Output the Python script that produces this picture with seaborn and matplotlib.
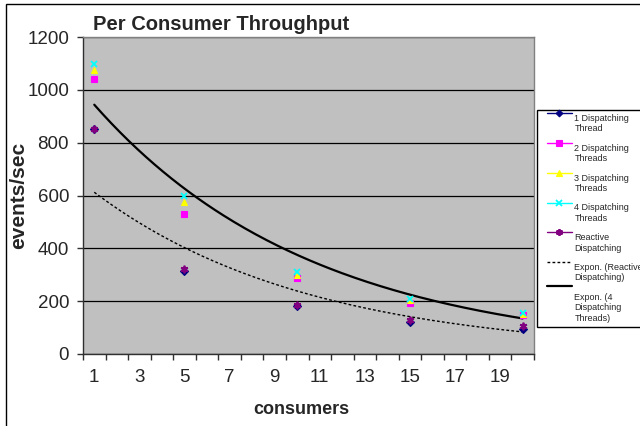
import numpy as np
import pandas as pd
import matplotlib
matplotlib.use("Agg")
import matplotlib.pyplot as plt
import seaborn as sns
from matplotlib.lines import Line2D
from matplotlib.legend_handler import HandlerLine2D
from matplotlib.patches import Rectangle

# ---- data ----
consumers = [1, 5, 10, 15, 20]
one_thread = [850, 315, 183, 123, 95]
two_threads = [1042, 530, 289, 194, 148]
three_threads = [1075, 574, 299, 203, 152]
four_threads = [1098, 599, 311, 210, 156]
reactive = [853, 322, 185, 130, 105]

series_names = ["1 Dispatching\nThread", "2 Dispatching\nThreads", "3 Dispatching\nThreads",
                "4 Dispatching\nThreads", "Reactive\nDispatching"]
trend_names = ["Expon. (Reactive\nDispatching)", "Expon. (4\nDispatching\nThreads)"]
x_tick_labels = ["1", "3", "5", "7", "9", "11", "13", "15", "17", "19"]
y_ticks = [0, 200, 400, 600, 800, 1000, 1200]

# ---- style ----
sns.set_style("white")
plt.rcParams["font.family"] = ["Liberation Sans", "DejaVu Sans"]

W, H = 640, 426
fig = plt.figure(figsize=(6.4, 4.26), dpi=100)
ax = fig.add_axes([83 / W, 1 - 354 / H, (534 - 83) / W, (354 - 37) / H])
ax.set_facecolor("#C0C0C0")

styles = [
    dict(color="#000080", marker="D", ms=3.8, mec="#000080"),
    dict(color="#FF00FF", marker="s", ms=4.5, mec="#FF00FF"),
    dict(color="#FFFF00", marker="^", ms=5.0, mec="#FFFF00"),
    dict(color="#00FFFF", marker="x", ms=5.0, mew=1.3, mec="#00FFFF"),
    dict(color="#800080", marker=(6, 2, 0), ms=5.5, mew=1.3, mec="#800080"),
]
values = [one_thread, two_threads, three_threads, four_threads, reactive]

for name, vals, st in zip(series_names, values, styles):
    df = pd.DataFrame({"consumers": consumers, "value": vals})
    sns.lineplot(data=df, x="consumers", y="value", ax=ax, linestyle="", errorbar=None,
                 marker=st["marker"], ms=st["ms"], mew=st.get("mew", 0.8),
                 mec=st["mec"], mfc=st["color"], color=st["color"], zorder=4)

# exponential trendlines (least squares on log values, as the spreadsheet does)
xs = np.linspace(1, 20, 200)
b_r, a_r = np.polyfit(consumers, np.log(reactive), 1)
b_4, a_4 = np.polyfit(consumers, np.log(four_threads), 1)
sns.lineplot(x=xs, y=np.exp(a_r + b_r * xs), ax=ax, color="black", lw=1.0,
             linestyle=(0, (2.0, 1.6)), errorbar=None, zorder=3)
sns.lineplot(x=xs, y=np.exp(a_4 + b_4 * xs), ax=ax, color="black", lw=1.6,
             errorbar=None, zorder=3)

# ---- axes ----
ax.set_xlim(0.5, 20.5)
ax.set_ylim(0, 1200)
ax.set_yticks(y_ticks)
ax.set_yticklabels([str(v) for v in y_ticks])
ax.set_xticks(np.arange(0.5, 21, 1.0))
ax.set_xticklabels([])
ax.set_xticks(np.arange(1, 20, 2), minor=True)
ax.set_xticklabels(x_tick_labels, minor=True)
ax.tick_params(axis="x", which="major", direction="out", length=4.5, width=1, color="#303030",
               bottom=True)
ax.tick_params(axis="x", which="minor", length=0, pad=11, labelsize=13.5, bottom=True)
ax.tick_params(axis="y", direction="out", length=4.5, width=1, color="#303030", pad=5.5,
               labelsize=13.5, left=True)
ax.yaxis.grid(True, color="black", lw=0.9)
ax.set_axisbelow(True)
ax.set_xlabel("")
ax.set_ylabel("")
for s in ["left", "bottom"]:
    ax.spines[s].set_color("#303030")
    ax.spines[s].set_linewidth(1.0)
for s in ["top", "right"]:
    ax.spines[s].set_color("#808080")
    ax.spines[s].set_linewidth(1.0)

# ---- texts ----
fig.text(93 / W, 1 - 30 / H, "Per Consumer Throughput", fontsize=14.5, weight="bold",
         ha="left", va="baseline")
fig.text(301 / W, 1 - 409 / H, "consumers", fontsize=13, weight="bold", ha="center", va="center")
fig.text(19 / W, 1 - 195 / H, "events/sec", fontsize=15, weight="bold", ha="center", va="center",
         rotation=90)

# ---- legend ----
class TopHandler(HandlerLine2D):
    def __init__(self, shift=0.0, dx=0.0, **kw):
        super().__init__(**kw)
        self.shift = shift
        self.dx = dx

    def create_artists(self, legend, orig_handle, xdescent, ydescent, width, height,
                       fontsize, trans):
        arts = super().create_artists(legend, orig_handle, xdescent, ydescent, width,
                                      height, fontsize, trans)
        for a in arts:
            y = np.asarray(a.get_ydata(), dtype=float)
            x = np.asarray(a.get_xdata(), dtype=float)
            a.set_ydata(y + self.shift)
            a.set_xdata(np.linspace(x[0] + self.dx, x[-1], len(x)))
        return arts

handles = []
for st in styles:
    handles.append(Line2D([], [], color=st["color"], lw=1.0, marker=st["marker"],
                          ms=st["ms"] * 0.9, mew=st.get("mew", 0.8), mec=st["mec"],
                          mfc=st["color"]))
handles.append(Line2D([], [], color="black", lw=1.0, linestyle=(0, (2.0, 1.6))))
handles.append(Line2D([], [], color="black", lw=1.6))
labels = series_names + trend_names
lfs = 6.5
line_h = lfs * 1.2
hmap = {}
for h, lab in zip(handles, labels):
    n = lab.count("\n")
    hmap[h] = TopHandler(shift=n * line_h, dx=4.0)
leg = fig.legend(handles, labels, loc="upper left", bbox_to_anchor=(537 / W, 1 - 110 / H),
                 fontsize=lfs, frameon=True, fancybox=False, edgecolor="black",
                 framealpha=1, borderpad=0.45, borderaxespad=0, handlelength=3.4,
                 handletextpad=0.3, labelspacing=1.15, handler_map=hmap)
leg.get_frame().set_linewidth(1.0)

# outer chart border
fig.patches.append(Rectangle((5.5 / W, -0.05), 1.2, 1 - 3.5 / H + 0.05,
                             transform=fig.transFigure, fill=False, edgecolor="black",
                             lw=1.0, clip_on=False))

fig.savefig("out.png", dpi=100)
